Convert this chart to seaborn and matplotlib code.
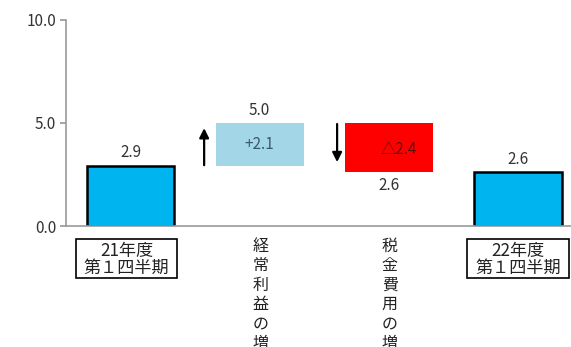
import matplotlib
matplotlib.use("Agg")
import matplotlib.pyplot as plt
import matplotlib.transforms as mtransforms
from matplotlib.patches import Rectangle
import seaborn as sns
import pandas as pd

# Waterfall of quarterly net income (units: 億円)
categories = ["21年度\n第１四半期", "経常利益の増加", "税金費用の増加", "22年度\n第１四半期"]
start_value = 2.9
profit_change = 2.1
tax_change = -2.4
end_value = 2.6

levels = [start_value, start_value + profit_change,
          start_value + profit_change + tax_change, end_value]
bottoms = [0.0, start_value, levels[2], 0.0]
heights = [start_value, profit_change, -tax_change, end_value]
colors = ["#00B4F0", "#A3D6E6", "#FF0000", "#00B4F0"]

value_labels = ["2.9", "5.0", "2.6", "2.6"]
change_labels = ["+2.1", "△2.4"]
y_ticks = [0.0, 5.0, 10.0]

sns.set_theme(style="white")
plt.rcParams["font.family"] = ["Noto Sans CJK JP", "DejaVu Sans"]

df = pd.DataFrame({"項目": categories, "値": heights})

fig = plt.figure(figsize=(5.71, 3.47), dpi=100)
ax = fig.add_axes([0.1156, 0.3487, 0.884, 0.5937])

sns.barplot(data=df, x="項目", y="値", hue="項目", palette=colors,
            legend=False, width=0.68, ax=ax, saturation=1)

# float each bar on its running total
for i, (patch, base) in enumerate(zip(ax.patches, bottoms)):
    patch.set_y(base)
    if i in (0, 3):
        patch.set_edgecolor("black")
        patch.set_linewidth(1.8)
    else:
        patch.set_linewidth(0)

ax.set_xlim(-0.5, 3.41)
ax.set_ylim(0, 10)
ax.set_yticks(y_ticks)
ax.set_yticklabels([f"{v:.1f}" for v in y_ticks], fontsize=11, color="#333333")
ax.set_xlabel("")
ax.set_ylabel("")

for side in ("top", "right"):
    ax.spines[side].set_visible(False)
for side in ("left", "bottom"):
    ax.spines[side].set_color("#9a9a9a")
    ax.spines[side].set_linewidth(1.2)
ax.tick_params(axis="y", left=True, length=4, color="#9a9a9a", pad=3)
ax.set_xticks(range(len(categories)))
ax.set_xticklabels([])
ax.tick_params(axis="x", bottom=False)

# category labels: framed for totals, stacked vertically for changes
blend = mtransforms.blended_transform_factory(ax.transData, ax.transAxes)
framed = []
for i, c in enumerate(categories):
    if i in (0, 3):
        dx = -4 if i == 0 else 0
        off = mtransforms.offset_copy(blend, fig=fig, x=dx, y=-16, units="dots")
        t = ax.text(i, 0, c, transform=off, ha="center", va="top", fontsize=12.3,
                    color="#222222", linespacing=0.9, clip_on=False)
        framed.append(t)
    else:
        off = mtransforms.offset_copy(blend, fig=fig, x=1, y=-12, units="dots")
        ax.text(i, 0, "\n".join(c), transform=off, ha="center", va="top",
                fontsize=11.5, color="#222222", linespacing=1.18, clip_on=False)

fig.canvas.draw()
renderer = fig.canvas.get_renderer()
for t in framed:
    bb = t.get_window_extent(renderer)
    frame = Rectangle((bb.x0 - 8, bb.y0 - 1), bb.width + 16, bb.height + 4,
                      transform=None, facecolor="none", edgecolor="black",
                      linewidth=1.2, clip_on=False)
    fig.add_artist(frame)

# value labels
txt = dict(ha="center", va="center", fontsize=11, color="#333333")
ax.text(0, levels[0] + 0.65, value_labels[0], **txt)
ax.text(1, levels[1] + 0.6, value_labels[1], **txt)
ax.text(2, levels[2] - 0.65, value_labels[2], **txt)
ax.text(3, end_value + 0.65, value_labels[3], **txt)
ax.text(1, start_value + profit_change / 2, change_labels[0],
        ha="center", va="center", fontsize=11, color="#3a5a6a")
ax.text(2.08, levels[2] + (-tax_change) / 2 - 0.1, change_labels[1],
        ha="center", va="center", fontsize=11, color="#5a1010")

# direction arrows
ax.annotate("", xy=(0.57, 4.75), xytext=(0.57, 2.95),
            arrowprops=dict(arrowstyle="-|>", color="black", lw=1.6,
                            mutation_scale=14, shrinkA=0, shrinkB=0))
ax.annotate("", xy=(1.6, 3.1), xytext=(1.6, 4.95),
            arrowprops=dict(arrowstyle="-|>", color="black", lw=1.6,
                            mutation_scale=14, shrinkA=0, shrinkB=0))

fig.savefig("out.png", dpi=100)
